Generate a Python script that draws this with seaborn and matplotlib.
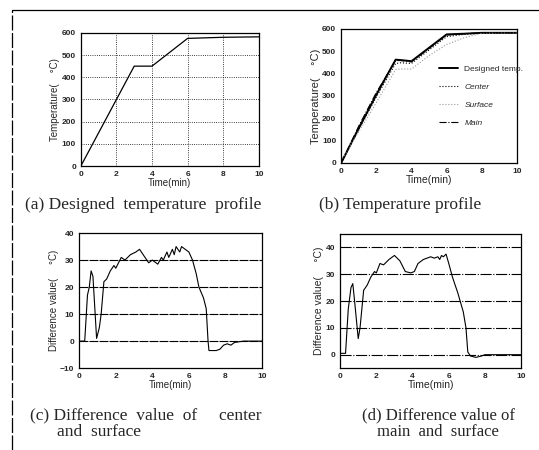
import matplotlib
matplotlib.use("Agg")
import matplotlib.pyplot as plt
import seaborn as sns
import pandas as pd

# (a) designed profile
t_design = [0, 3, 4, 6, 8, 10]
temp_design = [0, 450, 450, 575, 580, 582]

# (b) measured profiles
t_b = [0, 1, 2, 3.1, 3.4, 4, 5, 6, 7, 8, 10]
b_designed = [0, 155, 305, 462, 460, 455, 515, 575, 578, 582, 582]
b_center = [0, 150, 295, 445, 448, 445, 505, 565, 575, 580, 582]
b_surface = [10, 140, 270, 418, 420, 420, 480, 530, 560, 580, 582]
b_main = [0, 165, 315, 458, 458, 452, 512, 572, 578, 582, 582]

# (c) center - surface
t_c = [0, 0.3, 0.45, 0.55, 0.65, 0.75, 0.95, 1.1, 1.2, 1.35, 1.5, 1.7, 1.9, 2.0, 2.3, 2.5,
       2.8, 3.1, 3.3, 3.6, 3.8, 4.0, 4.3, 4.5, 4.6, 4.8, 4.9, 5.1, 5.2, 5.3, 5.5, 5.6,
       5.8, 6.0, 6.2, 6.4, 6.55, 6.8, 6.95, 7.05, 7.1, 7.5, 7.7, 7.9, 8.1, 8.3, 8.5, 9.0, 10]
d_c = [0, 0, 17, 20, 26, 24, 1, 5, 10, 22, 23, 26, 28, 27, 31, 30,
       32, 33, 34, 31, 29, 30, 28.5, 31, 30, 33, 31, 34, 32, 35, 33, 35,
       34, 33, 30, 25, 20, 16, 12, 0, -3.5, -3.5, -3, -1.5, -1, -1.5, -0.5, 0, 0]

# (d) main - surface
t_d = [0, 0.3, 0.45, 0.6, 0.7, 0.8, 1.0, 1.1, 1.3, 1.5, 1.7, 1.9, 2.0, 2.2, 2.4, 2.7,
       3.0, 3.3, 3.6, 3.9, 4.1, 4.3, 4.6, 5.0, 5.2, 5.4, 5.5, 5.6, 5.7, 5.85, 6.0, 6.2,
       6.5, 6.8, 6.95, 7.05, 7.2, 7.5, 7.8, 8.0, 10]
d_d = [0.5, 0.5, 17, 25, 26.5, 20, 6, 10, 24, 26, 29, 31, 30.5, 34, 33.5, 35.5,
       37, 35, 31, 30.5, 31, 34, 35.5, 36.5, 36, 36.5, 35.5, 37, 36.5, 37.5, 34, 29,
       23, 16, 10, 1, -0.5, -1, -0.5, 0, 0]

sns.set_style("white")
plt.rcParams['font.family'] = ['Liberation Sans', 'DejaVu Sans']

fig = plt.figure(figsize=(5.39, 4.5), dpi=100)
ax_a = fig.add_axes([0.150, 0.631, 0.330, 0.296])
ax_b = fig.add_axes([0.633, 0.638, 0.326, 0.298])
ax_c = fig.add_axes([0.147, 0.182, 0.339, 0.300])
ax_d = fig.add_axes([0.631, 0.182, 0.336, 0.298])

tick_kw = dict(labelsize=6, direction='in', length=2, width=0.6)
for ax in (ax_a, ax_b, ax_c, ax_d):
    for s in ax.spines.values():
        s.set_linewidth(0.9)
        s.set_color('black')
    ax.tick_params(**tick_kw)
    ax.set_xlim(0, 10)
    ax.set_xticks([0, 2, 4, 6, 8, 10])

# (a)
df_a = pd.DataFrame({'t': t_design, 'T': temp_design})
sns.lineplot(data=df_a, x='t', y='T', ax=ax_a, color='black', lw=0.9)
ax_a.set_ylim(0, 600)
ax_a.set_yticks(range(0, 601, 100))
ax_a.grid(True, color='black', ls=':', lw=0.6)
ax_a.set_ylabel('Temperature(    °C)', fontsize=7, labelpad=1)
ax_a.set_xlabel('Time(min)', fontsize=7, labelpad=0)

# (b)
df_b = pd.DataFrame({'t': t_b, 'Designed temp.': b_designed, 'Center': b_center,
                     'Surface': b_surface, 'Main': b_main})
styles = {'Designed temp.': dict(color='black', lw=1.4, ls='-'),
          'Center': dict(color='black', lw=0.8, ls=':'),
          'Surface': dict(color='#999999', lw=0.8, ls=':'),
          'Main': dict(color='black', lw=0.8, ls='-.')}
for name, st in styles.items():
    sns.lineplot(data=df_b, x='t', y=name, ax=ax_b, label=name, **st)
ax_b.set_ylim(0, 600)
ax_b.set_yticks(range(0, 601, 100))
ax_b.set_ylabel('Temperature(    °C)', fontsize=8, labelpad=1)
ax_b.set_xlabel('Time(min)', fontsize=7.5, labelpad=0)
leg = ax_b.legend(loc='center right', bbox_to_anchor=(1.08, 0.5), frameon=False,
                  fontsize=6, handlelength=2.2, labelspacing=1.2)
for txt in leg.get_texts()[1:]:
    txt.set_style('italic')

# (c)
df_c = pd.DataFrame({'t': t_c, 'd': d_c})
sns.lineplot(data=df_c, x='t', y='d', ax=ax_c, color='black', lw=0.8)
ax_c.set_ylim(-10, 40)
ax_c.set_yticks(range(-10, 41, 10))
for yv in [0, 10, 20, 30]:
    ax_c.axhline(yv, color='black', lw=0.8, ls=(0, (8, 1)))
ax_c.set_ylabel('Difference value(     °C)', fontsize=7, labelpad=1)
ax_c.set_xlabel('Time(min)', fontsize=7, labelpad=0)

# (d)
df_d = pd.DataFrame({'t': t_d, 'd': d_d})
sns.lineplot(data=df_d, x='t', y='d', ax=ax_d, color='black', lw=0.8)
ax_d.set_ylim(-5, 45)
ax_d.set_yticks(range(0, 41, 10))
for yv in [0, 10, 20, 30, 40]:
    ax_d.axhline(yv, color='black', lw=0.8, ls=(0, (10, 1.5, 1, 1.5)))
ax_d.set_ylabel('Difference value(     °C)', fontsize=7.5, labelpad=1)
ax_d.set_xlabel('Time(min)', fontsize=7.5, labelpad=0)

for ax in (ax_a, ax_b, ax_c, ax_d):
    for lab in ax.get_xticklabels() + ax.get_yticklabels():
        lab.set_fontweight('bold')

# captions
serif = ['Liberation Serif', 'DejaVu Serif']
fig.text(0.265, 0.536, '(a) Designed  temperature  profile', fontsize=12.5, family=serif, ha='center')
fig.text(0.742, 0.536, '(b) Temperature profile', fontsize=12.5, family=serif, ha='center')
fig.text(0.056, 0.068, '(c) Difference  value  of     center', fontsize=12.5, family=serif)
fig.text(0.105, 0.030, 'and  surface', fontsize=12.5, family=serif)
fig.text(0.813, 0.068, '(d) Difference value of', fontsize=12, family=serif, ha='center')
fig.text(0.813, 0.030, 'main  and  surface', fontsize=12, family=serif, ha='center')

# scan frame
fig.add_artist(plt.Line2D([0.022, 1.0], [0.978, 0.978], color='black', lw=0.9,
                          transform=fig.transFigure))
fig.add_artist(plt.Line2D([0.022, 0.022], [0.0, 0.978], color='black', lw=0.9,
                          ls=(0, (12, 2)), transform=fig.transFigure))

fig.savefig('out.png', dpi=100)
